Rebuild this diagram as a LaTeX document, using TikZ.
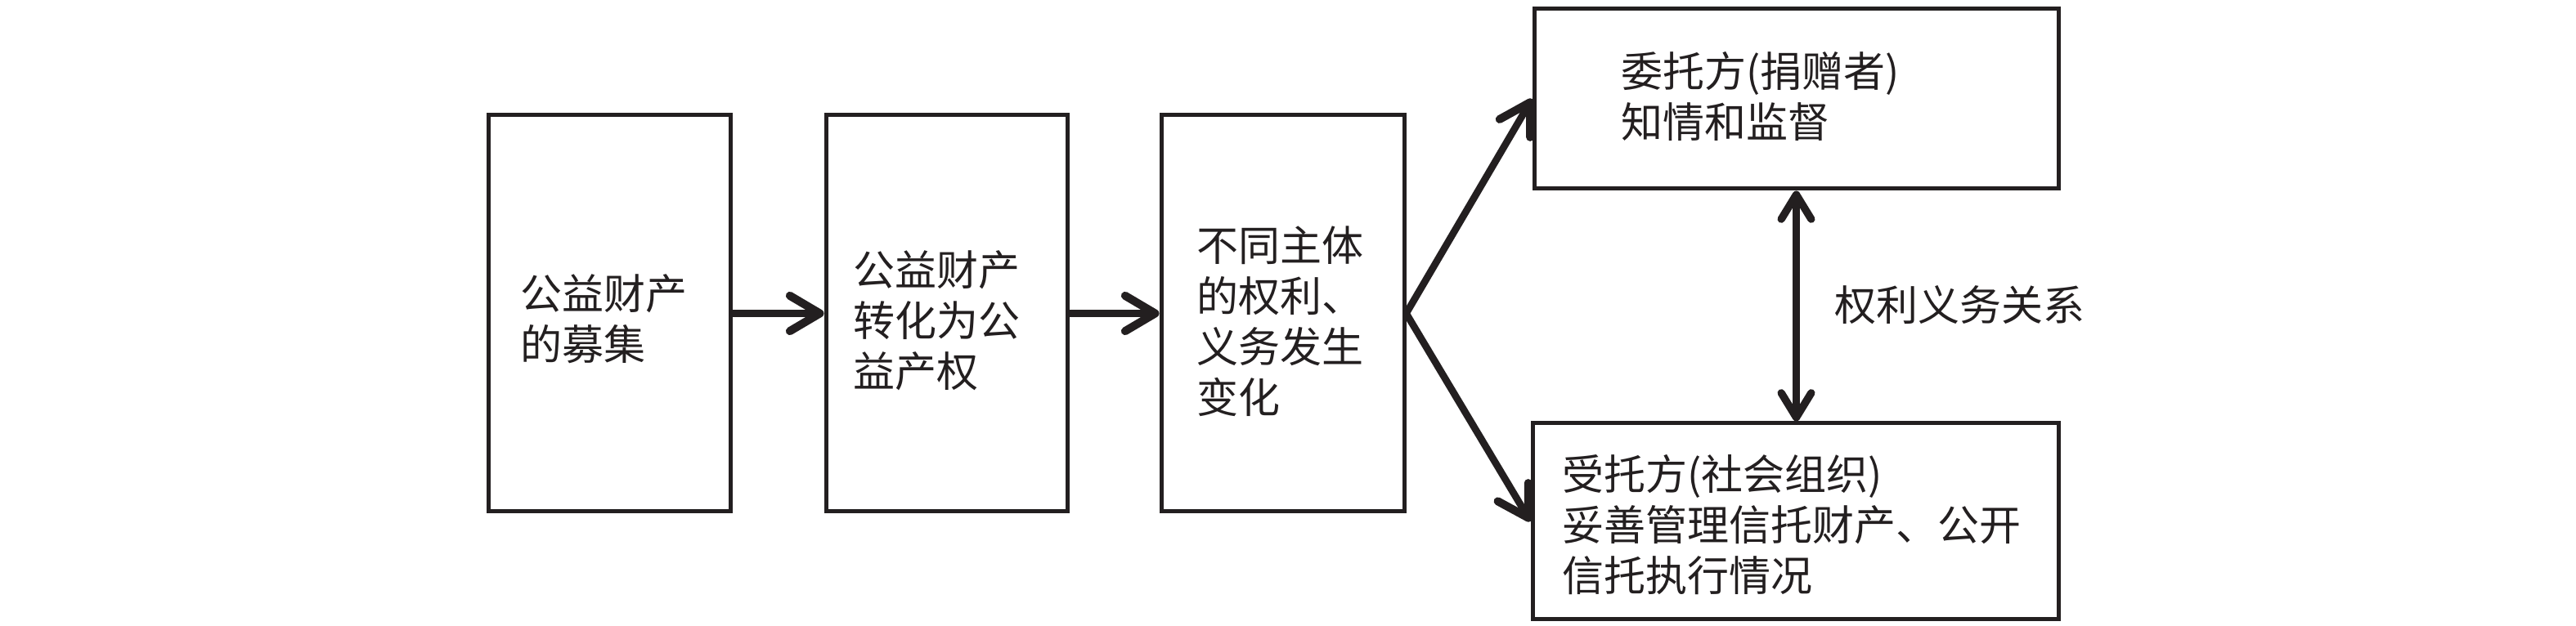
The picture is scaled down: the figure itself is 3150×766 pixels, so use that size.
\documentclass[tikz,border=0pt]{standalone}
\usepackage{fontspec}
\newfontfamily\cjk{Noto Sans CJK SC}
\usetikzlibrary{arrows.meta}
\definecolor{ink}{HTML}{231F20}
\begin{document}
\begin{tikzpicture}[x=0.3pt,y=-0.3pt,
  box/.style={draw=ink,line width=1.5pt,fill=white,inner sep=0pt,minimum height=#1},
  txt/.style={anchor=west,align=left,inner sep=0pt,font=\cjk\fontsize{15.3pt}{18.6pt}\selectfont,text=ink},
  flow/.style={draw=ink,line width=2.6pt,-{Straight Barb[length=11pt,width=13pt,line width=3pt,round]}},
  both/.style={draw=ink,line width=2.6pt,{Straight Barb[length=9pt,width=11pt,line width=2.8pt,round]}-{Straight Barb[length=9pt,width=11pt,line width=2.8pt,round]}}
]
\useasboundingbox (0,0) rectangle (3150,766);
\node[box=145.5pt,minimum width=88.8pt] (b1) at (745,383.5) {};
\node[box=145.5pt,minimum width=88.5pt] (b2) at (1157.5,383.5) {};
\node[box=145.5pt,minimum width=89.1pt] (b3) at (1568.5,383.5) {};
\node[box=66pt,minimum width=192.3pt] (b4) at (2196.5,121) {};
\node[box=72pt,minimum width=192.9pt] (b5) at (2195.5,638) {};
\node[txt] (t1) at (636,390) {公益财产\\的募集};
\node[txt] (t2) at (1043,392) {公益财产\\转化为公\\益产权};
\node[txt] (t3) at (1463,393) {不同主体\\的权利、\\义务发生\\变化};
\node[txt] (t4) at (1982,118) {委托方(捐赠者)\\知情和监督};
\node[txt] (t5) at (1910,642) {受托方(社会组织)\\妥善管理信托财产、公开\\信托执行情况};
\node[txt] (lab) at (2243,373) {权利义务关系};
\draw[flow] (b1.east) -- (b2.west);
\draw[flow] (b2.east) -- (b3.west);
\draw[flow,line join=round] (b3.east) -- (b4.west);
\draw[flow,line join=round] (b3.east) -- (b5.west);
\draw[both] (b4.south) -- (b4.south |- b5.north);
\end{tikzpicture}
\end{document}
